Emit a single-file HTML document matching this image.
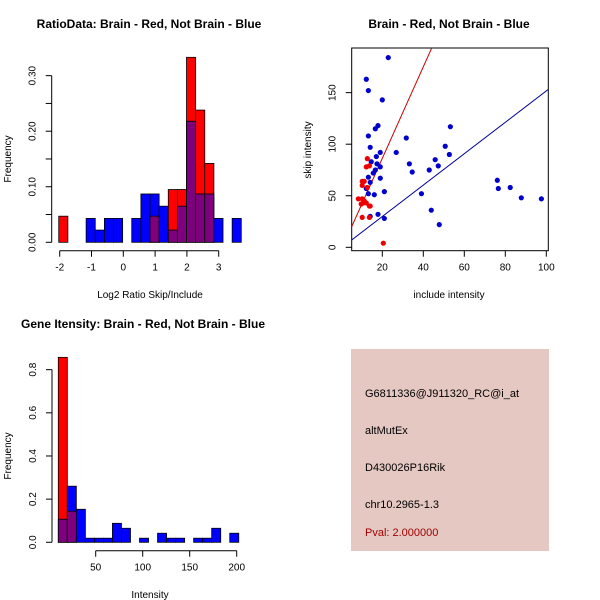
<!DOCTYPE html>
<html><head><meta charset="utf-8">
<style>
html,body{margin:0;padding:0;background:#fff;}
svg{display:block;font-family:"Liberation Sans",sans-serif;}
</style></head>
<body>
<svg id="chart" width="600" height="600" viewBox="0 0 600 600" xmlns="http://www.w3.org/2000/svg">
<rect width="600" height="600" fill="#fff"/>
<g id="p1"></g>
<g id="p2"></g>
<g id="p3"></g>
<g id="p4">
<rect x="351" y="349" width="198" height="202" fill="#e5c8c2"/>
<text x="365" y="397" font-size="11" fill="#000">G6811336@J911320_RC@i_at</text>
<text x="365" y="434" font-size="11" fill="#000">altMutEx</text>
<text x="365" y="471" font-size="11" fill="#000">D430026P16Rik</text>
<text x="365" y="508" font-size="11" fill="#000">chr10.2965-1.3</text>
<text x="365" y="536" font-size="11" fill="#a00000">Pval: 2.000000</text>
</g>
</svg>
<script>
// ---- Panel 1 data: log2 ratio histogram ----
const ratioBinStart = -2.03;
const ratioBinWidth = 0.287;
const ratioRed  = [0.047,0,0,0,0,0,0,0,0,0,0.047,0,0.095,0.095,0.333,0.238,0.142,0,0,0];
const ratioBlue = [0,0,0,0.043,0.022,0.043,0.043,0,0.043,0.087,0.087,0.065,0.022,0.065,0.218,0.087,0.087,0.043,0,0.043];
const ratioXTicks = [-2,-1,0,1,2,3];
const ratioYTicks = [0,0.05,0.10,0.15,0.20,0.25,0.30];
const ratioYLabels = ["0.00","","0.10","","0.20","","0.30"];

// ---- Panel 2 data: scatter ----
const blueX = [22.9,12.2,13.2,20,17.9,16.6,13.2,31.7,14.1,50.7,26.8,19,17.1,52.7,53.2,14.6,33.2,17.4,19,45.8,47.3,42.9,34.6,15.6,16.6,19,13.2,14.1,12.2,13.2,16.1,21,39.1,14.1,17.9,21,43.9,47.8,76.1,76.6,82.4,87.8,97.6];
const blueY = [184,163,152,143,118,115,108,106,97,98,92,92,88,90,117,83,81,81,78,85,79,75,73,72,75,67,68,63,57,52,51,54,52,30,32,28,36,22,65,57,58,48,47];
const redX = [12.7,12.2,13.7,10.2,11.2,10.2,8.3,10.2,11.2,10.7,12.2,13.7,14.1,10.2,13.7,20.5,9.7,12.7];
const redY = [86,78,79,64,64,60,47,47,45,43,43,40,40,29,29,4,42,58];
const redFit = [-2.5, 4.44];   // intercept, slope
const blueFit = [-0.6, 1.523];
const scXTicks = [20,40,60,80,100];
const scYTicks = [0,50,100,150];

// ---- Panel 3 data: intensity histogram ----
const intBinStart = 10.2;
const intBinWidth = 9.6;
const intRed  = [0.857,0.144,0,0,0,0,0,0,0,0,0,0,0,0,0,0,0,0,0,0];
const intBlue = [0.107,0.26,0.153,0.019,0.019,0.019,0.088,0.065,0,0.019,0,0.042,0.019,0.019,0,0.019,0.019,0.065,0,0.042];
const intXTicks = [50,100,150,200];
const intYTicks = [0,0.2,0.4,0.6,0.8];
const intYLabels = ["0.0","0.2","0.4","0.6","0.8"];

const NS="http://www.w3.org/2000/svg";
function mk(parent,tag,attrs,text){const e=document.createElementNS(NS,tag);for(const k in attrs)e.setAttribute(k,attrs[k]);if(text!==undefined)e.textContent=text;parent.appendChild(e);return e;}

function hist(g,title,binStart,binW,red,blue,xTicks,yTicks,yLabels,xs,ys,xAxisY,yAxisX,xlab,titleX,titleY,xlabX,xlabY){
  for(let i=0;i<red.length;i++){
    const x0=xs(binStart+i*binW), x1=xs(binStart+(i+1)*binW);
    const r=red[i], b=blue[i];
    const hi=Math.max(r,b), lo=Math.min(r,b);
    if(hi>0){
      const big=mk(g,'rect',{x:x0,y:ys(hi),width:x1-x0,height:ys(0)-ys(hi),fill:r>=b?'#ff0000':'#0000ff',stroke:'#000','stroke-width':0.8});
      
      
    }
    if(lo>0){
      const ov=mk(g,'rect',{x:x0,y:ys(lo),width:x1-x0,height:ys(0)-ys(lo),fill:'#7f007f',stroke:'#000','stroke-width':0.8});
      
      
    }
  }
  const ya=mk(g,'line',{x1:yAxisX,x2:yAxisX,y1:ys(yTicks[0]),y2:ys(yTicks[yTicks.length-1]),stroke:'#000'});
  
  
  yTicks.forEach((t,i)=>{
    mk(g,'line',{x1:yAxisX-6,x2:yAxisX,y1:ys(t),y2:ys(t),stroke:'#000'});
    if(yLabels[i]){
      const lx=yAxisX-16;
      const tl=mk(g,'text',{x:lx,y:ys(t),'font-size':10,'text-anchor':'middle',transform:`rotate(-90 ${lx} ${ys(t)})`},yLabels[i]);
      
      
    }
  });
  const xa=mk(g,'line',{x1:xs(xTicks[0]),x2:xs(xTicks[xTicks.length-1]),y1:xAxisY,y2:xAxisY,stroke:'#000'});
  
  
  xTicks.forEach(t=>{
    mk(g,'line',{x1:xs(t),x2:xs(t),y1:xAxisY,y2:xAxisY+6,stroke:'#000'});
    const tl=mk(g,'text',{x:xs(t),y:xAxisY+20,'font-size':10,'text-anchor':'middle'},String(t));
    
    
  });
  const ti=mk(g,'text',{x:titleX,y:titleY,'font-size':12,'font-weight':'bold','text-anchor':'middle'},title);
  
  
  const xl=mk(g,'text',{x:xlabX,y:xlabY,'font-size':10,'text-anchor':'middle'},xlab);
  
  
  const my=(ys(0)+ys(yTicks[yTicks.length-1]))/2;
  const yl=mk(g,'text',{x:11,y:my,'font-size':10,'text-anchor':'middle',transform:`rotate(-90 11 ${my})`},'Frequency');
  
  
}

// Panel 1
const xs1=v=>123.3+v*31.8, ys1=v=>242.3-v*555.5;
hist(document.getElementById('p1'),'RatioData: Brain - Red, Not Brain - Blue',ratioBinStart,ratioBinWidth,ratioRed,ratioBlue,ratioXTicks,ratioYTicks,ratioYLabels,xs1,ys1,250.7,51.7,'Log2 Ratio Skip/Include',149,28,150,298);

// Panel 3
const xs3=v=>48.7+v*0.94, ys3=v=>542.3-v*215.8;
hist(document.getElementById('p3'),'Gene Itensity: Brain - Red, Not Brain - Blue',intBinStart,intBinWidth,intRed,intBlue,intXTicks,intYTicks,intYLabels,xs3,ys3,550.7,52,'Intensity',143,328,150,598);

// Panel 2
(function(){
  const g=document.getElementById('p2');
  const xs=v=>341.3+v*2.05, ys=v=>247.3-v*1.031;
  const L=351.7,R=548.3,T=48,B=250.7;
  const cp=mk(g,'clipPath',{id:'clip2'});
  mk(cp,'rect',{x:L,y:T,width:R-L,height:B-T});
  const box=mk(g,'rect',{x:L,y:T,width:R-L,height:B-T,fill:'none',stroke:'#000'});
  
  
  const inner=mk(g,'g',{'clip-path':'url(#clip2)'});
  const xmin=(L-341.3)/2.05, xmax=(R-341.3)/2.05;
  const rl=mk(inner,'line',{x1:xs(xmin),y1:ys(redFit[0]+redFit[1]*xmin),x2:xs(xmax),y2:ys(redFit[0]+redFit[1]*xmax),stroke:'#cc0000'});
  
  
  const bl=mk(inner,'line',{x1:xs(xmin),y1:ys(blueFit[0]+blueFit[1]*xmin),x2:xs(xmax),y2:ys(blueFit[0]+blueFit[1]*xmax),stroke:'#000099'});
  
  
  blueX.forEach((x,i)=>{
    const c=mk(inner,'circle',{cx:xs(x),cy:ys(blueY[i]),r:2.6,fill:'#0000cc'});
    
    
  });
  redX.forEach((x,i)=>{
    const c=mk(inner,'circle',{cx:xs(x),cy:ys(redY[i]),r:2.6,fill:'#ee0000'});
    
    
  });
  scXTicks.forEach(t=>{
    mk(g,'line',{x1:xs(t),x2:xs(t),y1:B,y2:B+6,stroke:'#000'});
    const tl=mk(g,'text',{x:xs(t),y:B+20,'font-size':10,'text-anchor':'middle'},String(t));
    
    
  });
  scYTicks.forEach(t=>{
    mk(g,'line',{x1:L-6,x2:L,y1:ys(t),y2:ys(t),stroke:'#000'});
    const lx=L-16;
    const tl=mk(g,'text',{x:lx,y:ys(t),'font-size':10,'text-anchor':'middle',transform:`rotate(-90 ${lx} ${ys(t)})`},String(t));
    
    
  });
  const ti=mk(g,'text',{x:449,y:28,'font-size':12,'font-weight':'bold','text-anchor':'middle'},'Brain - Red, Not Brain - Blue');
  
  
  const xl=mk(g,'text',{x:449,y:298,'font-size':10,'text-anchor':'middle'},'include intensity');
  
  
  const yl=mk(g,'text',{x:311,y:150,'font-size':10,'text-anchor':'middle',transform:'rotate(-90 311 150)'},'skip intensity');
  
  
})();
</script>
</body></html>
